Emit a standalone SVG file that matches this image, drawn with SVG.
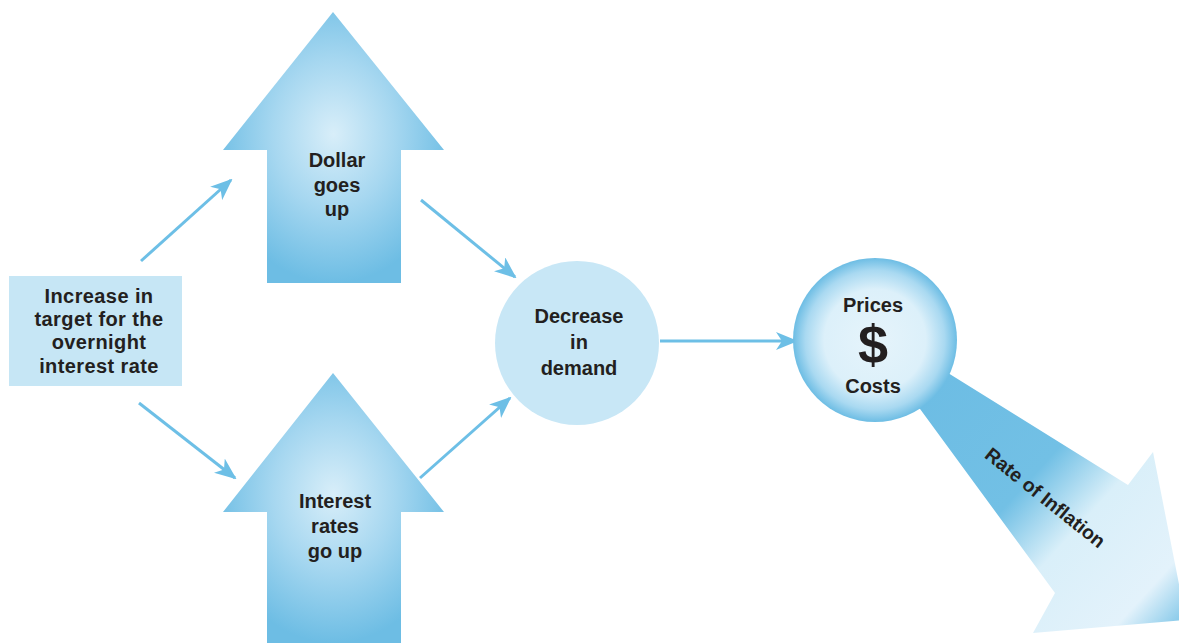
<svg xmlns="http://www.w3.org/2000/svg" width="1179" height="643" viewBox="0 0 1179 643">
<style>
.t{font-family:"Liberation Sans",Arial,sans-serif;font-weight:bold;font-size:20px;fill:#231f20;text-anchor:middle}
.c{stroke:#6dbfe6;stroke-width:3;fill:none}
</style>
<defs>
<radialGradient id="upg" cx="0.5" cy="0.45" r="0.55">
<stop offset="0" stop-color="#d8eef9"/>
<stop offset="0.5" stop-color="#a6d7f0"/>
<stop offset="1" stop-color="#6dbde4"/>
</radialGradient>
<radialGradient id="pg" cx="0.5" cy="0.5" r="0.5">
<stop offset="0" stop-color="#e6f4fb"/>
<stop offset="0.62" stop-color="#dcf0fa"/>
<stop offset="0.85" stop-color="#a9d9f1"/>
<stop offset="1" stop-color="#6dbde4"/>
</radialGradient>
<linearGradient id="ig" gradientUnits="userSpaceOnUse" x1="930" y1="388" x2="1180" y2="616">
<stop offset="0" stop-color="#6dbde4"/>
<stop offset="0.4" stop-color="#72c0e5"/>
<stop offset="0.6" stop-color="#d9eff9"/>
<stop offset="0.88" stop-color="#e3f2fb"/>
<stop offset="1" stop-color="#8fcdeb"/>
</linearGradient>
<marker id="ah" viewBox="0 0 22 18" refX="20" refY="9" markerWidth="22" markerHeight="18" markerUnits="userSpaceOnUse" orient="auto">
<path d="M0,0 L22,9 L0,18 L6,9 Z" fill="#6dbfe6"/>
</marker>
</defs>
<g id="connectors">
<line class="c" x1="141" y1="261" x2="231" y2="180" marker-end="url(#ah)"/>
<line class="c" x1="139" y1="403" x2="235" y2="478" marker-end="url(#ah)"/>
<line class="c" x1="421" y1="200" x2="515" y2="277" marker-end="url(#ah)"/>
<line class="c" x1="420" y1="478" x2="510" y2="398" marker-end="url(#ah)"/>
<line class="c" x1="660" y1="341" x2="796" y2="341" marker-end="url(#ah)"/>
</g>
<g id="inflation">
<polygon points="940,368 1128,485 1153,452 1186,620 1033,633 1055,593 912,398" fill="url(#ig)"/>
<text class="t" style="font-size:19.5px" transform="translate(1041,503) rotate(38.6)">Rate of Inflation</text>
</g>
<g id="start">
<rect x="9" y="276" width="173" height="110" fill="#c6e6f5"/>
<text class="t" x="99" y="303" letter-spacing="0.4">Increase in</text>
<text class="t" x="99" y="326" letter-spacing="0.4">target for the</text>
<text class="t" x="99" y="349" letter-spacing="0.4">overnight</text>
<text class="t" x="99" y="373" letter-spacing="0.4">interest rate</text>
</g>
<g id="dollar">
<polygon points="333,12 444,150 401,150 401,283 267,283 267,150 223,150" fill="url(#upg)"/>
<text class="t" x="337" y="167">Dollar</text>
<text class="t" x="337" y="192">goes</text>
<text class="t" x="337" y="216">up</text>
</g>
<g id="interest">
<polygon points="333,373 444,512 401,512 401,643 267,643 267,512 223,512" fill="url(#upg)"/>
<text class="t" x="335" y="508">Interest</text>
<text class="t" x="335" y="533">rates</text>
<text class="t" x="335" y="558">go up</text>
</g>
<g id="demand">
<circle cx="577" cy="343" r="82" fill="#c8e7f6"/>
<text class="t" x="579" y="323">Decrease</text>
<text class="t" x="579" y="349">in</text>
<text class="t" x="579" y="375">demand</text>
</g>
<g id="prices">
<circle cx="875" cy="340" r="82" fill="url(#pg)"/>
<text class="t" x="873" y="312">Prices</text>
<text class="t" x="873" y="363" style="font-size:54px">$</text>
<text class="t" x="873" y="393">Costs</text>
</g>
</svg>
